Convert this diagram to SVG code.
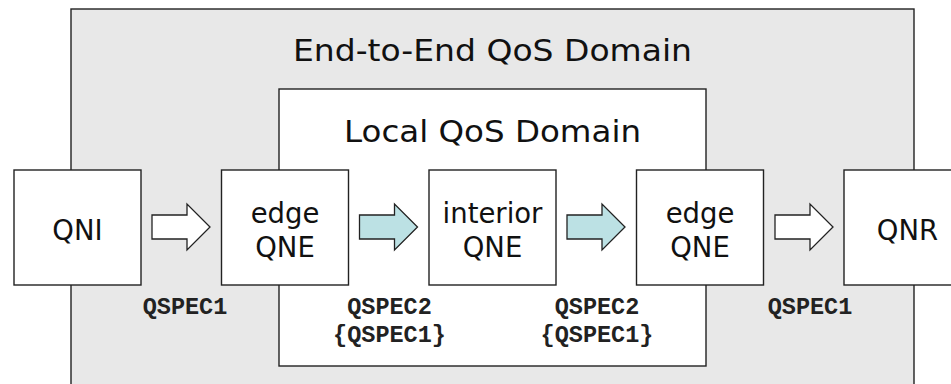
<svg xmlns="http://www.w3.org/2000/svg" width="951" height="384" viewBox="0 0 951 384">
  <defs>
    <style>
      .frame { stroke: #222; stroke-width: 1.4; }
      .outer { fill: #e8e8e8; }
      .inner { fill: #ffffff; }
      .box { fill: #ffffff; stroke: #222; stroke-width: 1.4; }
      .title { font-family: "DejaVu Sans", Verdana, sans-serif; font-size: 31px; fill: #111; text-anchor: middle; }
      .lbl { font-family: "DejaVu Sans", Verdana, sans-serif; font-size: 27.5px; fill: #111; text-anchor: middle; }
      .spec { font-family: "Liberation Mono", "Courier New", monospace; font-weight: bold; font-size: 23.5px; fill: #222; text-anchor: middle; }
      .arrow-plain { fill: #ffffff; stroke: #222; stroke-width: 1.3; stroke-linejoin: miter; }
      .arrow-local { fill: #bce1e4; stroke: #222; stroke-width: 1.3; stroke-linejoin: miter; }
    </style>
    <!-- block arrow: 58 wide, 24 px shaft, 46 px head -->
    <path id="blockArrow" d="M0,-12 H35 V-23 L58,0 L35,23 V12 H0 Z"/>
  </defs>

  <!-- domains -->
  <g id="e2e-domain">
    <rect class="frame outer" x="71" y="9" width="843" height="400"/>
    <text class="title" x="492.5" y="61" textLength="399" lengthAdjust="spacingAndGlyphs">End-to-End QoS Domain</text>
  </g>
  <g id="local-domain">
    <rect class="frame inner" x="279" y="89" width="427" height="277"/>
    <text class="title" x="492.5" y="141.7" textLength="297" lengthAdjust="spacingAndGlyphs">Local QoS Domain</text>
  </g>

  <!-- nodes -->
  <g id="qni">
    <rect class="box" x="14" y="170" width="127" height="115"/>
    <text class="lbl" x="77.5" y="240">QNI</text>
  </g>
  <g id="edge-qne-in">
    <rect class="box" x="221.5" y="170" width="127" height="115"/>
    <text class="lbl" x="285" y="222.7">edge</text>
    <text class="lbl" x="285" y="256.7">QNE</text>
  </g>
  <g id="interior-qne">
    <rect class="box" x="429" y="170" width="127" height="115"/>
    <text class="lbl" x="492.5" y="222.7">interior</text>
    <text class="lbl" x="492.5" y="256.7">QNE</text>
  </g>
  <g id="edge-qne-out">
    <rect class="box" x="636.5" y="170" width="127" height="115"/>
    <text class="lbl" x="700" y="222.7">edge</text>
    <text class="lbl" x="700" y="256.7">QNE</text>
  </g>
  <g id="qnr">
    <rect class="box" x="844" y="170" width="127" height="115"/>
    <text class="lbl" x="907.5" y="240">QNR</text>
  </g>

  <!-- connectors -->
  <g id="connectors">
    <use href="#blockArrow" class="arrow-plain" x="152" y="227"/>
    <use href="#blockArrow" class="arrow-local" x="359.5" y="227"/>
    <use href="#blockArrow" class="arrow-local" x="567" y="227"/>
    <use href="#blockArrow" class="arrow-plain" x="775" y="227"/>
  </g>

  <!-- QSPEC labels -->
  <g id="qspec-labels">
    <text class="spec" x="185" y="314">QSPEC1</text>
    <text class="spec" x="389.5" y="314">QSPEC2</text>
    <text class="spec" x="389.5" y="342">{QSPEC1}</text>
    <text class="spec" x="597" y="314">QSPEC2</text>
    <text class="spec" x="597" y="342">{QSPEC1}</text>
    <text class="spec" x="810" y="314">QSPEC1</text>
  </g>
</svg>
